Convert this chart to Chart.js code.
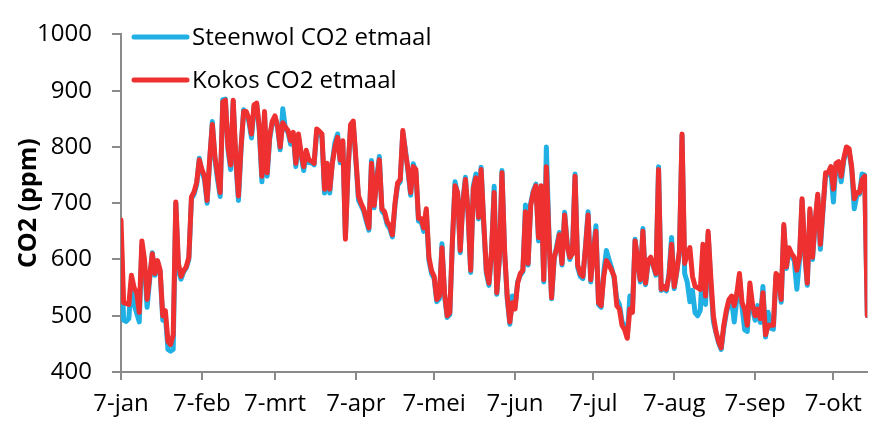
<!DOCTYPE html>
<html>
<head>
<meta charset="utf-8">
<script src="https://cdn.jsdelivr.net/npm/chart.js@4.4.1/dist/chart.umd.min.js"></script>
<style>
  html, body { margin: 0; padding: 0; background: #fff; }
  #wrap { width: 872px; height: 424px; }
</style>
</head>
<body>
<div id="wrap"><canvas id="CO2_chart" width="872" height="424"></canvas></div>
<script>
// x axis: day index counted from 7 januari, ticks on the 7th of every month
const monthTickDays = [0, 31, 59, 90, 120, 151, 181, 212, 243, 273];
const monthLabels = ['7-jan', '7-feb', '7-mrt', '7-apr', '7-mei', '7-jun', '7-jul', '7-aug', '7-sep', '7-okt'];

const yTicks = [400, 500, 600, 700, 800, 900, 1000];

// daily averages (ppm), one value per day from 7-jan
const steenwolCO2 = [
  640, 492, 490, 495, 560, 520, 505, 489, 625, 590, 515, 565, 612, 572, 595, 578, 492, 500, 440, 437,
  440, 700, 580, 565, 578, 585, 600, 708, 716, 733, 780, 755, 742, 700, 776, 845, 778, 742, 712, 884,
  885, 795, 760, 880, 772, 705, 795, 866, 860, 845, 816, 872, 876, 828, 738, 858, 748, 815, 843, 852,
  835, 795, 868, 832, 826, 805, 822, 765, 818, 785, 758, 790, 772, 772, 768, 828, 822, 818, 718, 766,
  718, 774, 808, 823, 772, 808, 640, 758, 838, 842, 776, 706, 696, 686, 668, 652, 776, 692, 745, 783,
  686, 680, 662, 655, 640, 696, 732, 738, 826, 795, 755, 714, 770, 755, 668, 668, 650, 686, 598, 575,
  566, 525, 530, 628, 535, 497, 502, 630, 738, 716, 612, 705, 746, 680, 577, 730, 752, 672, 764, 662,
  576, 554, 612, 730, 538, 600, 758, 612, 530, 485, 535, 516, 560, 572, 578, 697, 590, 700, 722, 734,
  633, 728, 560, 800, 645, 530, 600, 625, 648, 590, 684, 628, 600, 615, 752, 586, 570, 566, 625, 685,
  560, 615, 660, 520, 515, 578, 616, 600, 585, 566, 530, 520, 490, 480, 462, 535, 512, 636, 596, 560,
  655, 555, 594, 600, 588, 572, 765, 545, 548, 544, 575, 639, 548, 578, 612, 820, 575, 560, 525, 545,
  505, 500, 510, 600, 520, 645, 560, 490, 470, 452, 440, 478, 505, 524, 528, 489, 530, 570, 515, 475,
  472, 548, 512, 492, 518, 488, 552, 462, 506, 478, 476, 570, 566, 524, 658, 584, 618, 605, 598, 547,
  598, 705, 610, 554, 686, 600, 664, 712, 618, 686, 750, 750, 760, 702, 768, 770, 738, 776, 796, 794,
  760, 690, 714, 716, 752, 750, 500
];

const kokosCO2 = [
  670, 523, 522, 520, 572, 550, 541, 506, 633, 600, 529, 570, 610, 575, 598, 581, 500, 509, 454, 449,
  466, 702, 593, 570, 580, 587, 604, 711, 720, 737, 777, 760, 748, 705, 780, 840, 783, 750, 719, 880,
  883, 800, 768, 883, 780, 713, 800, 863, 863, 850, 823, 875, 878, 834, 748, 863, 754, 820, 846, 855,
  837, 800, 843, 835, 829, 811, 826, 771, 823, 790, 765, 794, 777, 775, 771, 832, 828, 823, 725, 771,
  725, 771, 800, 817, 777, 811, 636, 760, 840, 846, 780, 713, 700, 690, 673, 656, 771, 696, 740, 777,
  690, 685, 667, 660, 644, 700, 736, 742, 829, 790, 760, 719, 765, 760, 673, 673, 656, 690, 604, 580,
  570, 529, 535, 621, 540, 500, 506, 633, 731, 719, 616, 700, 742, 685, 581, 725, 745, 675, 760, 667,
  581, 558, 616, 719, 541, 604, 754, 616, 535, 489, 523, 512, 558, 575, 581, 685, 593, 696, 719, 731,
  639, 731, 564, 765, 639, 532, 604, 620, 644, 593, 679, 625, 604, 610, 748, 590, 575, 570, 620, 679,
  564, 610, 650, 523, 518, 570, 598, 590, 581, 570, 518, 512, 483, 475, 460, 512, 506, 633, 600, 564,
  650, 558, 598, 604, 590, 575, 760, 547, 552, 547, 570, 627, 552, 580, 616, 823, 593, 610, 621, 570,
  552, 550, 547, 627, 535, 650, 570, 500, 472, 454, 443, 483, 510, 529, 535, 518, 540, 575, 523, 512,
  483, 558, 520, 500, 512, 495, 541, 466, 483, 483, 483, 575, 570, 529, 662, 587, 621, 610, 604, 581,
  604, 708, 616, 558, 690, 604, 667, 716, 627, 690, 754, 754, 765, 725, 771, 774, 748, 780, 800, 797,
  765, 708, 719, 719, 742, 748, 500
];

const BLUE = 'rgb(32, 176, 228)';
const RED = 'rgb(238, 48, 48)';
const AXIS = '#8a8a8a';
const FONT = '"Open Sans", "Liberation Sans", sans-serif';

const toPoints = arr => arr.map((v, i) => ({ x: i, y: v }));

// legend drawn inside the plot, top left
const insideLegend = {
    id: 'insideLegend',
    afterDatasetsDraw(chart) {
        const ctx = chart.ctx;
        const items = [chart.data.datasets[0], chart.data.datasets[1]];
        ctx.save();
        ctx.font = '24px ' + FONT;
        ctx.textBaseline = 'middle';
        items.forEach((ds, i) => {
            const y = 37 + i * 43;
            ctx.strokeStyle = ds.borderColor;
            ctx.lineWidth = 5;
            ctx.lineCap = 'round';
            ctx.beginPath();
            ctx.moveTo(134, y);
            ctx.lineTo(187, y);
            ctx.stroke();
            ctx.fillStyle = '#000';
            ctx.fillText(ds.label, 192, y + 1);
        });
        ctx.restore();
    }
};

const CO2_graph = document.getElementById('CO2_chart').getContext('2d');

const CO2_config = {
    type: 'line',
    data: {
        datasets: [{
            label: 'Steenwol CO2 etmaal',
            borderColor: BLUE,
            backgroundColor: BLUE,
            data: toPoints(steenwolCO2),
            borderWidth: 5,
            pointRadius: 0,
            tension: 0,
            fill: false,
            order: 1,
            borderJoinStyle: 'round',
            borderCapStyle: 'round'
        }, {
            label: 'Kokos CO2 etmaal',
            borderColor: RED,
            backgroundColor: RED,
            data: toPoints(kokosCO2),
            borderWidth: 5,
            pointRadius: 0,
            tension: 0,
            fill: false,
            order: 0,
            borderJoinStyle: 'round',
            borderCapStyle: 'round'
        }]
    },
    options: {
        responsive: false,
        animation: false,
        layout: { padding: { top: 24, right: 2, bottom: 0, left: 0 } },
        scales: {
            x: {
                type: 'linear',
                min: 0,
                max: kokosCO2.length - 1,
                afterBuildTicks: scale => {
                    scale.ticks = monthTickDays.map(d => ({ value: d }));
                },
                afterFit: scale => { scale.height = 52; },
                ticks: {
                    autoSkip: false,
                    maxRotation: 0,
                    color: '#000',
                    font: { family: FONT, size: 24 },
                    padding: 10,
                    callback: value => monthLabels[monthTickDays.indexOf(value)]
                },
                grid: {
                    drawOnChartArea: false,
                    drawTicks: true,
                    tickLength: 8,
                    color: AXIS,
                    lineWidth: 2
                },
                border: { color: AXIS, width: 2 }
            },
            y: {
                min: 400,
                max: 1000,
                afterBuildTicks: scale => {
                    scale.ticks = yTicks.map(v => ({ value: v }));
                },
                afterFit: scale => { scale.width = 121; },
                ticks: {
                    color: '#000',
                    font: { family: FONT, size: 24 },
                    padding: 20,
                    callback: value => String(value)
                },
                grid: {
                    drawOnChartArea: false,
                    drawTicks: true,
                    tickLength: 9,
                    color: AXIS,
                    lineWidth: 2
                },
                border: { color: AXIS, width: 2 },
                title: {
                    display: true,
                    text: 'CO2 (ppm)',
                    color: '#000',
                    font: { family: FONT, size: 25, weight: 'bold' },
                    padding: { top: 14, bottom: 0 }
                }
            }
        },
        plugins: {
            legend: { display: false },
            tooltip: { enabled: false }
        }
    },
    plugins: [insideLegend]
};

const CO2_chart = new Chart(CO2_graph, CO2_config);
</script>
</body>
</html>
